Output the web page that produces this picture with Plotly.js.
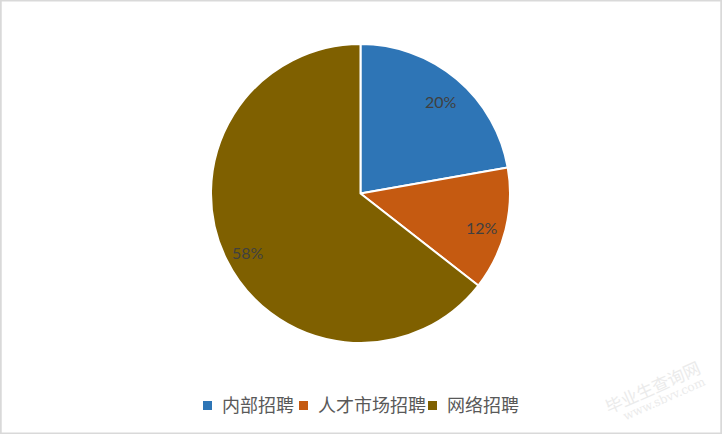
<!DOCTYPE html>
<html>
<head>
<meta charset="utf-8">
<script src="https://cdn.plot.ly/plotly-3.0.1.min.js"></script>
<style>
html,body{margin:0;padding:0;background:#fff;}
#chart{width:722px;height:434px;}
</style>
</head>
<body>
<div id="chart"></div>
<script>
const categories = ['内部招聘', '人才市场招聘', '网络招聘'];
const values = [20, 12, 58];
const colors = ['#2E75B6', '#C55A11', '#7F6000'];
const labelsText = values.map(v => v + '%');

const W = 722, H = 434;
const domX = [0.2922, 0.7064], domY = [0.2097, 0.8986];

const trace = {
  type: 'pie',
  labels: categories,
  values: values,
  text: labelsText,
  textinfo: 'none',
  hoverinfo: 'label+text',
  sort: false,
  direction: 'clockwise',
  rotation: 0,
  showlegend: false,
  marker: {colors: colors, line: {color: '#ffffff', width: 2}},
  domain: {x: domX, y: domY}
};

// data labels at each slice's mid-angle, near the outer edge (Excel style)
const total = values.reduce((a, b) => a + b, 0);
const cx = (domX[0] + domX[1]) / 2, cy = (domY[0] + domY[1]) / 2;
const rPx = Math.min((domX[1] - domX[0]) * W, (domY[1] - domY[0]) * H) / 2;
let cum = 0;
const labelAnns = values.map((v, i) => {
  const mid = (cum + v / 2) / total * 2 * Math.PI;
  cum += v;
  const rr = 0.84 * rPx;
  return {
    text: labelsText[i], xref: 'paper', yref: 'paper',
    x: cx + rr * Math.sin(mid) / W, y: cy + rr * Math.cos(mid) / H,
    xanchor: 'center', yanchor: 'middle', showarrow: false, yshift: -4,
    font: {family: 'Lato, Open Sans, sans-serif', size: 16, color: '#404040'}
  };
});

// custom legend (square swatch + label), laid out like the original
const legendTextX = [222, 318, 447];
const legendShapes = [], legendAnns = [];
categories.forEach((c, i) => {
  const tx = legendTextX[i];
  legendShapes.push({type: 'rect', xref: 'paper', yref: 'paper',
    x0: (tx - 19) / W, x1: (tx - 10) / W, y0: 1 - 410 / H, y1: 1 - 401 / H,
    fillcolor: colors[i], line: {width: 0}});
  legendAnns.push({text: c, xref: 'paper', yref: 'paper', x: tx / W, y: 1 - 404 / H,
    xanchor: 'left', yanchor: 'middle', showarrow: false, xshift: -2,
    font: {family: 'Noto Sans CJK SC, sans-serif', size: 18, color: '#595959'}});
});

const layout = {
  width: W, height: H,
  margin: {l: 0, r: 0, t: 0, b: 0},
  paper_bgcolor: '#ffffff',
  showlegend: false,
  shapes: [{type: 'rect', xref: 'paper', yref: 'paper', x0: 0.001, x1: 0.999, y0: 0.001, y1: 0.999,
            line: {color: '#d9d9d9', width: 2}}].concat(legendShapes),
  annotations: labelAnns.concat(legendAnns, [
    {text: '毕业生查询网', xref: 'paper', yref: 'paper', x: 652 / W, y: 1 - 386 / H, showarrow: false,
     xanchor: 'center', yanchor: 'middle',
     textangle: -24, font: {family: 'Noto Sans CJK SC, sans-serif', size: 17, color: '#ebebeb'}},
    {text: 'www.sbvv.com', xref: 'paper', yref: 'paper', x: 664 / W, y: 1 - 399 / H, showarrow: false,
     xanchor: 'center', yanchor: 'middle',
     textangle: -24, font: {family: 'DejaVu Serif, serif', size: 12, color: '#ebebeb'}}
  ])
};

Plotly.newPlot('chart', [trace], layout, {displayModeBar: false, staticPlot: true});
</script>
</body>
</html>
